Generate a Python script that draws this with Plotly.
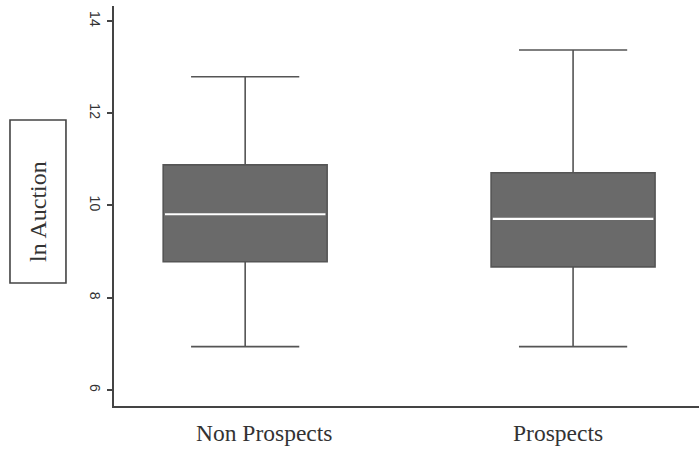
import plotly.graph_objects as go

# Summary statistics of ln(auction price) for each group
categories = ["Non Prospects", "Prospects"]
lower_whisker = [6.94, 6.94]
q1 = [8.78, 8.67]
median = [9.81, 9.71]
q3 = [10.88, 10.71]
upper_whisker = [12.79, 13.37]

y_ticks = [6, 8, 10, 12, 14]

positions = list(range(len(categories)))
box_width = 0.5
# horizontal nudge of each category caption, in axis units
label_nudge = [0.058, -0.045]

fig = go.Figure()

for i, name in enumerate(categories):
    fig.add_trace(go.Box(
        x=[positions[i]],
        q1=[q1[i]], median=[median[i]], q3=[q3[i]],
        lowerfence=[lower_whisker[i]], upperfence=[upper_whisker[i]],
        width=box_width,
        whiskerwidth=0.66,
        fillcolor="#6a6a6a",
        line=dict(color="#555555", width=1.6),
        boxpoints=False,
        hoverinfo="skip",
        showlegend=False,
    ))
    # white median bar across the box
    fig.add_trace(go.Scatter(
        x=[positions[i] - box_width / 2 + 0.005, positions[i] + box_width / 2 - 0.005],
        y=[median[i], median[i]],
        mode="lines",
        line=dict(color="white", width=2.2),
        hoverinfo="skip",
        showlegend=False,
    ))

annotations = [dict(
    text="ln Auction", xref="paper", yref="paper",
    x=-0.130, y=0.4875, textangle=-90, showarrow=False,
    xanchor="center", yanchor="middle",
    font=dict(family="Liberation Serif", size=24, color="#333333"),
)]
for i, name in enumerate(categories):
    annotations.append(dict(
        text=name, xref="x", yref="paper",
        x=positions[i] + label_nudge[i], y=0, yshift=-12,
        xanchor="center", yanchor="top", showarrow=False,
        font=dict(family="Liberation Serif", size=23.5, color="#333333"),
    ))

fig.update_layout(
    width=699, height=449,
    margin=dict(l=114, r=0, t=6, b=43),
    paper_bgcolor="white",
    plot_bgcolor="white",
    xaxis=dict(
        range=[-0.40, 1.384],
        showticklabels=False,
        showline=True, linecolor="#444444", linewidth=2,
        showgrid=False, zeroline=False, ticks="",
    ),
    yaxis=dict(
        range=[5.653, 14.325],
        tickvals=y_ticks,
        ticktext=[str(v) for v in y_ticks],
        tickangle=90,
        ticks="outside", ticklen=5, tickwidth=1.5, tickcolor="#444444",
        showline=True, linecolor="#444444", linewidth=2,
        showgrid=False, zeroline=False,
        tickfont=dict(family="Liberation Sans", size=14, color="#333333"),
    ),
    shapes=[dict(
        type="rect", xref="paper", yref="paper",
        x0=-0.1778, x1=-0.0821, y0=0.3075, y1=0.715,
        line=dict(color="#444444", width=1.6),
    )],
    annotations=annotations,
)

fig.write_html("out.html")
